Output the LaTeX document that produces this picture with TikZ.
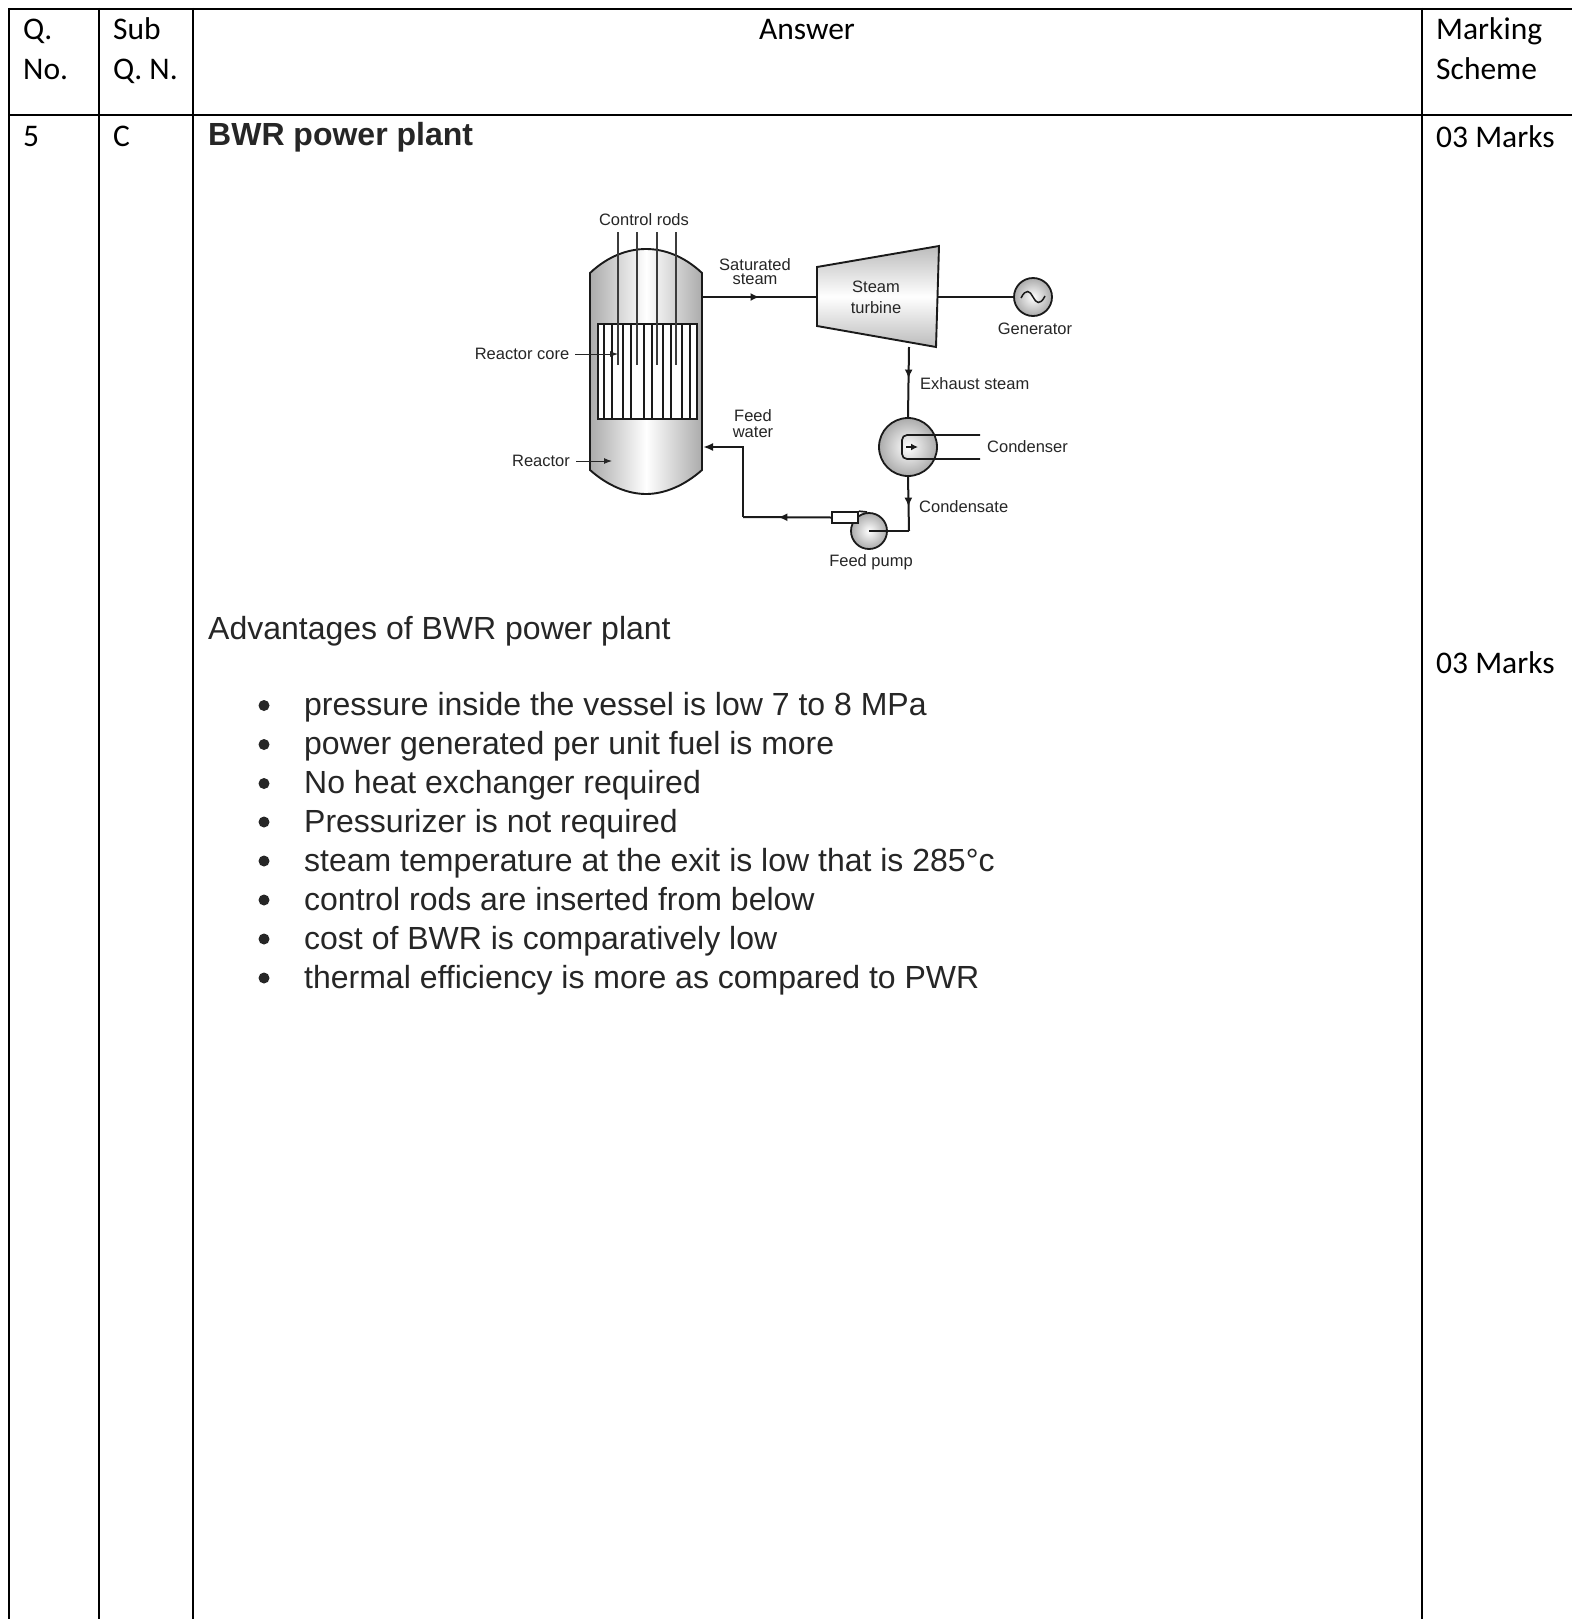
\documentclass[tikz,border=0pt]{standalone}
\usepackage{fontspec}
\setmainfont{Liberation Sans}
\newfontfamily\cellfont{Carlito}
\usetikzlibrary{arrows.meta,decorations.markings}
\definecolor{ink}{HTML}{1A1A1A}
\definecolor{bodyink}{HTML}{262626}
\definecolor{labelink}{HTML}{262626}
\definecolor{shadeg}{HTML}{ABABAB}
\tikzset{
  x=1pt,y=-1pt,
  rule/.style={line width=2.2pt,black},
  cell/.style={anchor=base west,inner sep=0pt,font=\cellfont\fontsize{31.5}{31.5}\selectfont,text=black},
  body/.style={anchor=base west,inner sep=0pt,font=\fontsize{32}{32}\selectfont,text=bodyink},
  dotb/.style={circle,fill=bodyink,inner sep=0pt,minimum size=11pt},
  lab/.style={inner sep=0pt,align=center,font=\fontsize{16.5}{17}\selectfont,text=labelink},
  pipe/.style={line width=2pt,ink},
  thin pipe/.style={line width=1.7pt,ink},
  flowmark/.style={postaction={decorate},decoration={markings,mark=at position #1 with {\arrow{Latex[length=9pt,width=8pt]}}}},
  unit/.style={circle,draw=ink,line width=1.8pt,inner sep=0pt,inner color=white,outer color=shadeg}
}
\begin{document}
\begin{tikzpicture}
\useasboundingbox (0,0) rectangle (1572,1619);
\fill[white] (0,0) rectangle (1572,1619);
% table
\coordinate (tl) at (9,9); \coordinate (tr) at (1572,9);
\coordinate (hl) at (9,115); \coordinate (hr) at (1572,115);
\draw[rule] (tl) -- (tr);
\draw[rule] (hl) -- (hr);
\draw[rule] (9,8) -- (9,1619);
\draw[rule] (99,8) -- (99,1619);
\draw[rule] (193,8) -- (193,1619);
\draw[rule] (1422,8) -- (1422,1619);
% header
\node[cell] (q1) at (23,40) {Q.};
\node[cell] (q2) at (23,79) {No.};
\node[cell] (s1) at (113,40) {Sub};
\node[cell] (s2) at (113,79) {Q. N.};
\node[cell,anchor=base] (ans) at (807,40) {Answer};
\node[cell] (m1) at (1436,40) {Marking};
\node[cell] (m2) at (1436,79) {Scheme};
\node[cell] (five) at (23,146) {5};
\node[cell] (csub) at (113,146) {C};
\node[cell] (mk1) at (1436,147) {03 Marks};
\node[cell] (mk2) at (1436,673) {03 Marks};
\node[body,font=\bfseries\fontsize{32}{32}\selectfont] (title) at (208,145) {BWR power plant};
\node[body] (adv) at (208,639) {Advantages of BWR power plant};
\foreach \nm/\yy/\tx in {a/715.5/{pressure inside the vessel is low 7 to 8 MPa},
  b/754.5/{power generated per unit fuel is more},
  c/793.5/{No heat exchanger required},
  d/832/{Pressurizer is not required},
  e/871/{steam temperature at the exit is low that is 285°c},
  f/910/{control rods are inserted from below},
  g/949/{cost of BWR is comparatively low},
  h/988/{thermal efficiency is more as compared to PWR}}{
  \node[dotb] (dot\nm) at (264,\yy-10) {};
  \node[body] (item\nm) at (304,\yy) {\tx};
}
% reactor vessel
\path[draw=ink,line width=1.9pt,left color=shadeg,right color=shadeg,middle color=white]
  (590,273) .. controls (608,256) and (628,249) .. (646,249)
  .. controls (664,249) and (684,256) .. (702,273)
  -- (702,470) .. controls (684,486) and (664,494) .. (646,494)
  .. controls (628,494) and (608,486) .. (590,470) -- cycle;
\draw[line width=1.8pt,ink,fill=white] (598,324) rectangle (697,419);
\foreach \xx in {604,612,623,631,644,652,663,671,682,690}
  \draw[line width=1.7pt,ink] (\xx,324) -- (\xx,419);
\foreach \xx in {618,637,657,676}
  \draw[line width=1.7pt,ink!85] (\xx,232) -- (\xx,365);
\node[lab] (lrods) at (644,220) {Control rods};
\node[lab] (lcore) at (522,354) {Reactor core};
\node[lab] (lreac) at (541,461) {Reactor};
\coordinate (coretip) at (618,354);
\coordinate (reactip) at (612,461);
\draw[line width=1pt,labelink,-{Latex[length=8pt,width=6pt]}] (lcore.east)++(6,0) -- (coretip);
\draw[line width=1pt,labelink,-{Latex[length=8pt,width=6pt]}] (lreac.east)++(6,0) -- (reactip);
% turbine
\path[draw=ink,line width=1.9pt,left color=shadeg!80,right color=shadeg!80,middle color=white,shading angle=0]
  (817,267) coordinate (ta) -- (939,246) coordinate (tb) -- (936,347) coordinate (tc) -- (817,326) coordinate (td) -- cycle;
\node[lab] (lturb) at (876,297) {Steam\\[4pt]turbine};
\coordinate (steamout) at (702,297);
\coordinate (steamin) at (817,297);
\coordinate (shaftout) at (938,297);
\node[lab] (lsat) at (755,272) {Saturated\\[-3pt]steam};
\draw[pipe,flowmark=0.5] (steamout) -- (steamin);
% generator
\node[unit,minimum size=38pt] (gen) at (1033,297) {};
\draw[pipe] (shaftout) -- (gen.west);
\draw[line width=1.5pt,ink] (1021,298) .. controls (1026,288) and (1030,291) .. (1033,297) .. controls (1036,303) and (1040,306) .. (1045,296);
\node[lab] (lgen) at (1035,329) {Generator};
% condenser
\node[unit,minimum size=58pt] (cond) at (908,447) {};
\coordinate (exh) at (909,347);
\draw[pipe,flowmark=0.45] (exh) -- (cond.north);
\node[lab,anchor=west] (lexh) at (920,384) {Exhaust steam};
\coordinate (ct1) at (980,435);
\coordinate (ct2) at (980,459);
\draw[thin pipe,rounded corners=5pt] (ct1) -- (902,435) -- (902,459) -- (ct2);
\draw[line width=1.6pt,ink,-{Latex[length=7pt,width=7pt]}] (906,447) -- (918,447);
\node[lab,anchor=west] (lcond) at (987,447) {Condenser};
% pump
\node[unit,minimum size=36pt] (pump) at (869,531) {};
\coordinate (elbow) at (909,531);
\draw[pipe,flowmark=0.55] (cond.south) -- (elbow);
\draw[pipe] (elbow) -- (pump.center);
\node[lab,anchor=west] (lcnd) at (919,507) {Condensate};
\node[lab] (lpump) at (871,562) {Feed pump};
\node[draw=ink,line width=1.6pt,fill=white,minimum width=26pt,minimum height=11pt,inner sep=0pt] (noz) at (845,517.5) {};
\draw[thin pipe] (noz.north east) -- (867,512);
\coordinate (fw1) at (743,517);
\coordinate (fw2) at (743,447);
\coordinate (fwin) at (703,447);
\draw[pipe,flowmark=0.6] (noz.west) -- (fw1);
\draw[pipe,-{Latex[length=10pt,width=8pt]}] (fw1) -- (fw2) -- (fwin);
\node[lab] (lfeed) at (753,424) {Feed\\[-1pt]water};
\end{tikzpicture}
\end{document}
